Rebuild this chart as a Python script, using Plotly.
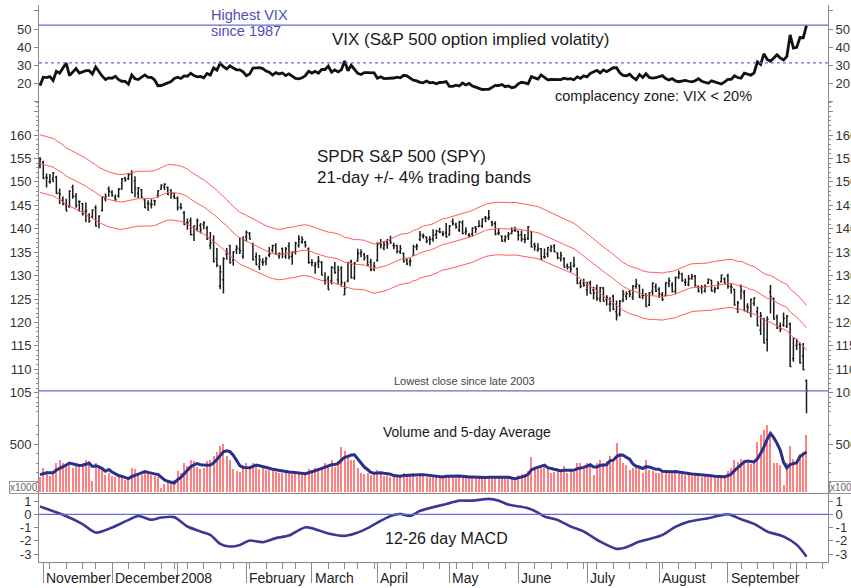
import numpy as np
import pandas as pd
import plotly.graph_objects as go

# ---------------- DATA ----------------
# trading calendar (NYSE holidays in the window)
holidays = ['2007-11-22', '2007-12-25', '2008-01-01', '2008-01-21', '2008-02-18',
            '2008-03-21', '2008-05-26', '2008-07-04', '2008-09-01']

# VIX daily close, 31 Oct 2007 .. 6 Oct 2008
vix_close = [18.53,
    23.21, 23.01, 23.52, 21.39, 26.49, 25.49, 28.50, 31.09, 24.10, 25.94, 28.06, 25.49, 26.01, 26.84, 26.84, 25.01, 28.91, 26.13, 23.78, 21.91, 22.87,
    22.66, 23.79, 21.87, 20.96, 20.85, 19.31, 24.45, 22.36, 21.91, 23.16, 24.52, 23.17, 23.13, 21.68, 18.47, 18.60, 19.31, 20.26, 20.74, 22.50,
    23.17, 22.49, 23.94, 23.79, 25.43, 24.12, 23.45, 23.68, 22.90, 25.28, 24.38, 28.46, 27.18, 31.01, 29.02, 27.78, 29.53, 28.27, 27.34, 27.33, 26.20,
    24.02, 24.96, 28.24, 28.49, 28.51, 28.01, 26.64, 25.99, 24.42, 25.78, 25.02, 25.59, 24.16, 25.12, 24.06, 22.60, 22.32, 22.87, 24.07, 26.54,
    25.52, 26.52, 25.46, 27.49, 27.49, 29.38, 25.99, 27.29, 26.16, 27.29, 32.24, 26.76, 29.84, 27.74, 25.36, 24.73, 25.75, 25.73, 25.68, 25.61,
    22.68, 23.43, 22.45, 22.48, 22.42, 22.78, 23.21, 22.90, 24.27, 24.02, 22.72, 21.53, 21.13, 20.37, 20.12, 21.05, 20.08, 20.31, 19.59, 20.29, 20.34, 20.79,
    18.18, 18.18, 18.82, 18.31, 19.96, 18.93, 19.79, 18.29, 17.73, 17.21, 16.39, 16.47, 16.53, 17.58, 18.70, 18.54, 19.19, 17.94, 18.37, 17.36, 17.83,
    19.52, 20.39, 20.02, 19.56, 23.56, 22.89, 22.16, 24.48, 23.33, 21.73, 21.93, 21.92, 22.24, 21.90, 22.64, 22.16, 22.41, 21.82, 23.44, 22.58, 23.95,
    23.36, 25.33, 26.19, 27.06, 25.60, 27.28, 26.32, 27.49, 28.48, 28.54, 25.68, 24.21, 24.02, 24.88, 23.03, 21.81, 24.68, 23.00, 25.15, 23.10, 22.76, 22.94,
    23.49, 24.11, 22.49, 21.70, 22.50, 21.17, 20.72, 21.17, 21.40, 20.97, 20.60, 21.28, 22.39, 20.98, 20.59, 19.82, 21.16, 20.49, 19.76, 19.43, 20.65,
    21.99, 22.00, 24.05, 23.06, 22.64, 25.47, 24.99, 24.39, 25.66, 31.70, 30.30, 36.22, 33.10, 32.07, 33.84, 35.72, 33.86, 32.82, 34.74, 46.72, 39.39,
    39.81, 45.26, 45.14, 52.05]

# SPY daily bars
spy_open = [153.3,
    154.2, 151.0, 150.0, 150.6, 151.0, 147.6, 146.1, 145.1, 144.7, 148.9, 146.9, 145.8, 145.4, 143.7, 142.7, 142.5, 144.5, 141.5, 143.9, 146.4, 148.5,
    147.8, 146.6, 147.0, 148.5, 150.8, 150.7, 151.6, 150.2, 147.5, 148.3, 146.2, 145.4, 145.1, 146.0, 147.1, 148.4, 148.9, 148.8, 148.2, 146.9,
    146.5, 144.7, 143.4, 141.3, 141.7, 138.7, 140.0, 140.7, 140.9, 140.1, 136.4, 137.5, 133.6, 127.8, 129.1, 134.6, 136.4, 133.3, 135.5, 135.6, 134.1,
    138.3, 139.0, 136.8, 134.0, 131.9, 132.9, 133.0, 134.4, 135.4, 136.4, 134.2, 135.7, 134.1, 136.3, 134.1, 135.1, 136.4, 137.2, 137.1, 135.8,
    132.8, 132.1, 132.9, 132.8, 128.9, 129.4, 128.9, 131.6, 129.1, 131.6, 125.9, 128.8, 133.0, 129.6, 133.1, 134.7, 134.5, 134.2, 132.9, 131.4,
    133.2, 136.9, 135.9, 137.1, 137.6, 136.4, 136.4, 135.1, 134.7, 133.3, 133.0, 134.3, 136.1, 137.7, 138.4, 138.2, 137.7, 137.8, 138.8, 139.4, 139.0, 139.2,
    138.7, 141.5, 140.9, 139.8, 141.3, 139.2, 138.6, 138.8, 140.3, 140.5, 140.6, 142.4, 142.3, 141.4, 141.1, 139.1, 138.4, 137.6, 138.5, 139.0, 139.7,
    139.4, 138.7, 137.7, 137.9, 139.4, 136.6, 135.5, 135.7, 134.0, 134.6, 135.5, 136.4, 134.8, 133.7, 133.6, 132.1, 131.8, 132.0, 131.5, 128.4, 128.4,
    126.9, 128.4, 126.9, 127.3, 125.0, 127.4, 124.9, 123.9, 125.6, 122.3, 121.9, 124.8, 125.6, 126.6, 125.4, 127.7, 127.9, 125.7, 125.8, 123.7, 126.6, 127.6,
    127.1, 125.9, 125.7, 128.3, 128.0, 126.6, 129.6, 130.3, 128.6, 128.1, 129.4, 129.9, 127.6, 127.4, 126.7, 128.4, 129.0, 126.8, 127.3, 128.7, 129.3,
    129.9, 127.6, 127.1, 122.8, 127.8, 126.4, 123.4, 121.9, 124.1, 122.3, 118.4, 120.7, 116.3, 126.5, 125.1, 121.1, 119.3, 119.4, 119.2, 119.6, 112.3,
    115.1, 115.3, 112.9, 107.6]
spy_high = [155.3,
    154.5, 151.8, 151.7, 152.1, 151.3, 148.6, 146.9, 146.4, 148.2, 149.4, 147.6, 146.0, 145.5, 145.6, 143.3, 144.1, 145.0, 142.9, 147.0, 147.5, 149.0,
    148.2, 147.3, 148.7, 150.8, 151.1, 151.9, 152.5, 151.2, 148.9, 148.5, 146.4, 146.1, 146.3, 146.1, 148.2, 149.5, 149.7, 149.0, 148.4, 147.6,
    146.9, 145.5, 143.8, 142.2, 142.4, 140.7, 142.2, 141.2, 141.6, 140.6, 139.3, 138.6, 135.9, 132.2, 133.9, 135.9, 136.6, 135.2, 136.5, 138.2, 138.4,
    139.6, 139.3, 137.0, 134.9, 134.4, 133.7, 134.0, 136.1, 136.6, 136.9, 134.9, 136.0, 136.1, 137.1, 135.2, 137.2, 138.6, 138.4, 137.4, 136.0,
    133.5, 132.9, 134.2, 133.1, 130.7, 129.9, 132.0, 132.9, 132.1, 132.0, 128.7, 132.9, 133.4, 132.9, 135.7, 135.6, 134.8, 134.4, 133.6, 132.9,
    137.1, 137.8, 137.3, 137.8, 138.5, 137.0, 136.6, 136.5, 134.9, 133.7, 133.7, 136.6, 136.8, 139.5, 139.0, 138.4, 138.4, 139.9, 139.8, 140.2, 139.5, 141.2,
    140.8, 142.2, 141.3, 141.7, 141.8, 140.3, 139.1, 140.3, 140.6, 141.8, 142.2, 142.7, 144.0, 141.7, 141.6, 140.0, 138.6, 138.6, 139.3, 140.3, 140.4,
    139.6, 139.6, 138.9, 140.6, 139.5, 137.0, 136.9, 135.9, 135.8, 136.1, 136.5, 136.7, 135.0, 135.1, 133.9, 132.6, 132.9, 134.0, 131.6, 129.1, 129.3,
    128.7, 128.9, 127.6, 128.1, 127.6, 127.5, 125.8, 125.4, 125.9, 124.7, 124.8, 126.9, 126.6, 126.9, 128.0, 129.3, 128.1, 127.2, 126.3, 126.5, 128.6, 128.3,
    127.5, 126.5, 128.5, 129.6, 128.6, 129.8, 131.1, 130.6, 129.4, 130.1, 130.4, 130.1, 127.9, 128.0, 128.1, 129.4, 129.1, 127.6, 128.8, 130.2, 129.6,
    130.4, 128.3, 127.2, 124.6, 128.1, 126.9, 124.1, 125.1, 125.4, 123.4, 122.2, 121.0, 121.3, 128.0, 125.3, 121.7, 120.0, 122.1, 121.6, 120.0, 116.7,
    116.5, 115.7, 115.6, 107.8]
spy_low = [152.9,
    150.6, 148.8, 149.6, 149.9, 147.4, 145.3, 145.0, 143.8, 144.5, 146.4, 144.5, 143.6, 142.8, 141.4, 141.3, 142.3, 140.5, 140.1, 143.7, 145.8, 146.8,
    146.8, 145.9, 146.6, 148.3, 150.0, 150.4, 147.6, 146.7, 146.5, 146.6, 144.4, 143.8, 144.3, 144.9, 146.6, 148.3, 148.2, 147.2, 146.4, 146.4,
    143.9, 144.1, 140.8, 139.8, 138.6, 137.4, 139.4, 139.0, 139.9, 137.6, 135.6, 132.8, 131.8, 127.1, 126.2, 133.4, 132.5, 132.1, 134.6, 134.6, 133.6,
    137.3, 137.7, 133.2, 132.2, 131.2, 132.1, 132.2, 133.9, 134.9, 134.4, 133.6, 133.7, 133.6, 133.5, 132.3, 134.5, 136.0, 136.8, 136.0, 132.5,
    132.0, 130.4, 131.6, 130.0, 128.1, 127.0, 128.1, 130.4, 128.1, 127.6, 125.8, 128.6, 129.4, 129.1, 133.0, 133.9, 133.2, 132.1, 130.9, 130.9,
    133.0, 135.8, 135.4, 135.7, 136.8, 135.6, 134.7, 134.6, 132.8, 132.2, 132.0, 134.2, 135.4, 137.4, 137.9, 136.9, 136.5, 137.2, 137.8, 139.1, 138.4, 138.1,
    138.5, 140.7, 140.0, 139.3, 138.8, 138.7, 138.2, 138.4, 139.1, 140.3, 140.2, 141.4, 141.8, 140.5, 138.6, 138.6, 137.2, 137.1, 137.6, 138.8, 139.3,
    137.5, 137.2, 136.9, 137.6, 136.0, 135.3, 135.1, 133.3, 133.6, 133.9, 135.0, 135.0, 133.5, 133.0, 131.7, 131.3, 130.7, 131.8, 128.2, 127.3, 127.6,
    125.7, 126.1, 124.9, 124.6, 124.3, 124.4, 123.6, 122.3, 122.6, 120.4, 121.3, 124.3, 124.8, 125.4, 124.8, 127.2, 125.2, 125.0, 123.3, 123.5, 125.8, 126.5,
    125.2, 124.6, 125.6, 127.5, 126.4, 126.1, 129.3, 128.7, 127.8, 127.7, 129.1, 127.6, 126.4, 126.1, 126.4, 128.2, 126.6, 126.3, 127.1, 128.5, 128.2,
    127.2, 126.2, 123.6, 122.0, 124.9, 122.4, 122.0, 121.1, 123.5, 119.2, 117.3, 115.5, 113.8, 121.9, 120.6, 118.6, 117.9, 119.1, 118.8, 110.5, 111.6,
    114.1, 111.2, 109.8, 100.6]
spy_close = [154.8,
    150.7, 150.9, 150.1, 151.9, 147.5, 147.4, 145.3, 143.8, 148.0, 147.0, 145.0, 145.8, 143.2, 143.9, 141.6, 144.0, 140.6, 142.7, 146.8, 146.9, 148.0,
    147.1, 146.2, 148.4, 150.6, 150.4, 151.5, 147.7, 148.6, 148.7, 146.7, 144.5, 145.4, 145.2, 145.9, 148.1, 149.3, 149.5, 147.3, 147.5, 146.5,
    144.4, 144.5, 140.9, 141.3, 138.7, 140.6, 141.7, 139.8, 141.3, 137.8, 137.0, 133.0, 132.2, 130.8, 133.6, 134.9, 132.8, 135.1, 135.9, 135.3, 137.6,
    139.2, 137.8, 133.4, 132.3, 133.4, 132.8, 133.6, 134.6, 136.4, 134.6, 134.7, 134.6, 135.7, 134.0, 135.0, 136.9, 137.8, 137.7, 136.5, 132.8,
    132.8, 132.4, 133.1, 130.1, 129.0, 127.0, 131.8, 130.6, 131.2, 128.5, 127.3, 132.8, 129.5, 132.7, 134.7, 135.0, 133.8, 132.3, 131.2, 132.0,
    136.7, 136.5, 136.6, 136.7, 137.0, 136.3, 135.2, 135.8, 133.0, 132.5, 133.1, 136.2, 136.3, 138.7, 138.5, 137.3, 137.7, 138.6, 139.5, 139.3, 138.8, 138.3,
    140.6, 141.1, 140.4, 141.5, 139.0, 139.5, 138.5, 140.1, 140.0, 140.6, 142.1, 142.2, 142.4, 141.0, 138.8, 139.1, 137.3, 138.2, 138.8, 139.5, 139.7,
    138.6, 137.8, 137.7, 140.4, 136.1, 136.2, 135.8, 133.5, 134.0, 136.0, 136.0, 135.1, 133.8, 134.3, 131.8, 131.8, 131.4, 132.2, 128.3, 127.8, 128.0,
    128.5, 126.2, 126.3, 125.2, 127.4, 124.5, 125.3, 124.0, 122.8, 121.5, 124.5, 126.0, 126.1, 126.0, 127.7, 128.2, 125.3, 125.8, 123.4, 126.3, 128.4, 126.7,
    126.0, 124.9, 128.5, 128.9, 126.6, 129.6, 130.5, 129.0, 128.6, 129.3, 129.8, 127.9, 126.7, 127.5, 127.8, 129.2, 126.7, 127.2, 128.2, 130.1, 128.3,
    127.8, 127.5, 123.7, 124.2, 126.8, 122.5, 123.2, 124.9, 125.2, 119.3, 121.4, 115.6, 120.7, 125.5, 120.7, 118.8, 118.6, 120.9, 121.3, 110.6, 116.6,
    116.1, 111.4, 109.9, 105.4]

# closes before the window (Sep-Oct 2007), used only to seed the 21-day bands
prior_close = [148.9, 147.2, 147.9, 145.4, 145.2, 147.1, 147.2, 148.4, 148.4, 147.7,
               152.0, 152.9, 151.9, 152.6, 151.8, 151.7, 152.5, 153.1, 152.7,
               154.7, 154.7, 154.0, 154.3, 155.8, 155.3, 156.5, 156.2, 155.4, 156.2, 154.9,
               153.9, 154.1, 154.0, 150.1, 150.6, 152.0, 151.6, 151.4, 153.5, 154.1, 153.1]

# daily volume (chart units, x1000)
volume = [160,
    250, 220, 170, 200, 300, 330, 300, 280, 300, 250, 280, 270, 300, 330, 320, 110, 300, 250, 240, 180, 200,
    170, 150, 150, 140, 120, 130, 250, 240, 190, 180, 200, 210, 180, 170, 150, 40, 80, 110, 100, 120,
    220, 200, 300, 270, 330, 320, 260, 240, 250, 320, 330, 380, 420, 480, 500, 380, 330, 240, 220, 210, 280,
    300, 250, 300, 280, 240, 260, 230, 230, 220, 210, 200, 200, 220, 210, 190, 190, 200, 180, 190, 240,
    230, 250, 250, 260, 300, 280, 330, 260, 320, 470, 430, 380, 330, 330, 250, 200, 190, 200, 180, 200,
    230, 190, 170, 170, 160, 160, 170, 160, 200, 170, 180, 200, 160, 190, 170, 160, 150, 170, 160, 150, 150, 180,
    180, 170, 140, 160, 170, 150, 150, 150, 150, 140, 160, 150, 160, 150, 170, 160, 140, 150, 140, 130, 130,
    180, 190, 190, 220, 370, 260, 240, 270, 260, 240, 200, 210, 230, 220, 270, 200, 230, 210, 300, 300, 240,
    300, 280, 180, 300, 330, 300, 320, 380, 330, 510, 400, 300, 280, 230, 250, 280, 260, 200, 330, 230, 220, 200,
    200, 230, 220, 200, 200, 210, 200, 190, 180, 190, 170, 190, 180, 160, 170, 160, 170, 160, 150, 160, 150,
    220, 250, 330, 310, 350, 330, 300, 290, 300, 520, 600, 650, 700, 600, 300, 300, 280, 70, 300, 480, 350,
    330, 400, 420, 600]
prior_volume = [180, 190, 170, 200]

macd_day = [0, 7, 13, 17, 22, 27, 30, 34, 37, 41, 45, 49, 52, 55, 58, 61, 64, 68, 72, 76,
            79, 81, 83, 88, 93, 97, 100, 103, 107, 110, 113, 116, 120, 124, 128, 132, 137, 140, 143, 149,
            152, 154, 158, 162, 166, 171, 176, 179, 183, 186, 190, 194, 198, 204, 210, 214, 218, 222, 227, 231,
            234]
macd_line = [0.57, -0.05, -0.75, -1.38, -1.0, -0.43, -0.13, -0.42, -0.25, -0.22,
             -0.93, -1.3, -1.56, -2.23, -2.43, -2.31, -1.98, -2.1, -1.8, -1.6,
             -1.2, -0.98, -1.05, -1.45, -1.63, -1.38, -1.05, -0.63, -0.13, 0.02,
             -0.13, 0.25, 0.53, 0.77, 1.02, 1.02, 1.15, 1.02, 0.72, 0.45,
             0.12, -0.18, -0.43, -0.93, -1.3, -2.06, -2.61, -2.48, -2.06, -1.86,
             -1.56, -0.95, -0.56, -0.3, 0.0, -0.38, -0.73, -1.3, -1.68, -2.3,
             -3.19]
macd_trigger = [0.6, 0.0, -0.7, -1.34, -0.97, -0.4, -0.1, -0.38, -0.22, -0.18,
                -0.88, -1.26, -1.52, -2.18, -2.4, -2.28, -1.95, -2.06, -1.76, -1.56,
                -1.17, -0.95, -1.02, -1.41, -1.6, -1.35, -1.02, -0.6, -0.1, 0.05,
                -0.1, 0.28, 0.56, 0.8, 1.05, 1.05, 1.18, 1.06, 0.76, 0.49,
                0.16, -0.14, -0.39, -0.89, -1.26, -2.02, -2.57, -2.45, -2.03, -1.83,
                -1.53, -0.92, -0.53, -0.27, 0.03, -0.34, -0.69, -1.26, -1.64, -2.25,
                -3.12]

month_names = {11: 'November', 12: 'December', 1: '2008', 2: 'February', 3: 'March', 4: 'April',
               5: 'May', 6: 'June', 7: 'July', 8: 'August', 9: 'September'}

vix_tick_vals = [10, 20, 30, 40, 50, 60]
vix_tick_text = ['', '20', '30', '40', '50', '']
spy_tick_vals = [105, 110, 115, 120, 125, 130, 135, 140, 145, 150, 155, 160, 165]
spy_tick_text = ['105', '110', '115', '120', '125', '130', '135', '140', '145', '150', '155', '160', '']
vol_tick_vals = [500]
vol_tick_text = ['500']
macd_tick_vals = [1, 0, -1, -2, -3]
macd_tick_text = ['1', '0', '-1', '-2', '-3']

vix_record = 52.1       # highest VIX since 1987
vix_alert = 31.2        # dotted alert level
spy_low_close = 105.4   # lowest close since late 2003
band_pct = 4.0
band_days = 21

# ---------------- DERIVED ----------------
N = len(spy_close)
cal = pd.bdate_range('2007-10-31', '2008-10-17')
cal = cal[~cal.isin(pd.to_datetime(holidays))]
xi = np.arange(N)

month_idx, week_idx = [], []
for i in range(1, len(cal)):
    if cal[i].month != cal[i - 1].month:
        month_idx.append(i)
    elif cal[i].weekday() < cal[i - 1].weekday():
        week_idx.append(i)

ext_close = pd.Series(prior_close + spy_close)
sma = ext_close.rolling(band_days).mean().to_numpy()[len(prior_close):]
upper = sma * (1 + band_pct / 100)
lower = sma * (1 - band_pct / 100)

vol_avg = pd.Series(prior_volume + volume).rolling(5).mean().to_numpy()[len(prior_volume):]

# ---------------- LAYOUT GEOMETRY ----------------
W, H = 851, 588
ML, MR, MT, MB = 39, 23, 5, 26
PW, PH = W - ML - MR, H - MT - MB
PX_PER_DAY = 3.2757

def fx(px):
    return (px - ML) / PW

def fy(py):
    return (H - MB - py) / PH

x_range = [(ML - 40) / PX_PER_DAY, (W - MR - 40) / PX_PER_DAY]
vix_range = [10, 63.33]
spy_range = [100.03, 167.26]
vol_range = [-24.3, 798.5]
macd_range = [-3.586, 1.526]

dom_vix = [fy(101), 1.0]
dom_spy = [fy(416), fy(101)]
dom_vol = [fy(494), fy(416)]
dom_macd = [0.0, fy(494)]

AX = '#8a8a8a'
TXT = '#333333'
FONT = 'Liberation Sans, Arial, sans-serif'
CLEAR = 'rgba(0,0,0,0)'

fig = go.Figure()

# VIX
fig.add_trace(go.Scatter(x=xi, y=vix_close, mode='lines', line=dict(color='#111111', width=2.8),
                         xaxis='x', yaxis='y', hoverinfo='skip'))
# SPY bands
for band in (upper, sma, lower):
    fig.add_trace(go.Scatter(x=xi, y=band, mode='lines', line=dict(color='#ff5c5c', width=1),
                             xaxis='x', yaxis='y2', hoverinfo='skip'))
# SPY bars
fig.add_trace(go.Ohlc(x=xi, open=spy_open, high=spy_high, low=spy_low, close=spy_close,
                      increasing=dict(line=dict(color='#1a1a1a', width=1.5)),
                      decreasing=dict(line=dict(color='#1a1a1a', width=1.5)),
                      tickwidth=0.4, xaxis='x', yaxis='y2', hoverinfo='skip'))
# Volume
fig.add_trace(go.Bar(x=xi, y=volume, width=0.32, marker=dict(color='#ff8080', line=dict(width=0)),
                     xaxis='x', yaxis='y3', hoverinfo='skip'))
fig.add_trace(go.Scatter(x=xi, y=vol_avg, mode='lines', line=dict(color='#27318c', width=3),
                         xaxis='x', yaxis='y3', hoverinfo='skip'))
# MACD
fig.add_trace(go.Scatter(x=macd_day, y=macd_trigger, mode='lines',
                         line=dict(color='#ff6a6a', width=2, shape='spline', smoothing=0.7),
                         xaxis='x', yaxis='y4', hoverinfo='skip'))
fig.add_trace(go.Scatter(x=macd_day, y=macd_line, mode='lines',
                         line=dict(color='#2e3c9e', width=2.4, shape='spline', smoothing=0.7),
                         xaxis='x', yaxis='y4', hoverinfo='skip'))

# invisible copies so the right-hand axes get drawn
for s, ax in ((vix_close, 'y5'), (spy_close, 'y6'), (volume, 'y7')):
    fig.add_trace(go.Scatter(x=xi, y=s, mode='lines', line=dict(color=CLEAR, width=0),
                             xaxis='x', yaxis=ax, hoverinfo='skip'))
fig.add_trace(go.Scatter(x=macd_day, y=macd_line, mode='lines', line=dict(color=CLEAR, width=0),
                         xaxis='x', yaxis='y8', hoverinfo='skip'))

# reference lines
HL = '#6a6ad0'
fig.add_shape(type='line', xref='paper', x0=0, x1=1, yref='y', y0=vix_record, y1=vix_record,
              line=dict(color=HL, width=1.2))
fig.add_shape(type='line', xref='paper', x0=0, x1=1, yref='y', y0=vix_alert, y1=vix_alert,
              line=dict(color=HL, width=1.2, dash='dot'))
fig.add_shape(type='line', xref='paper', x0=0, x1=1, yref='y2', y0=spy_low_close, y1=spy_low_close,
              line=dict(color=HL, width=1.2))
fig.add_shape(type='line', xref='paper', x0=0, x1=1, yref='y4', y0=0, y1=0,
              line=dict(color=HL, width=1.2))


def yax(domain, rng, tv, tt, minor_dtick):
    d = dict(domain=domain, range=rng, anchor='x', showline=True, linecolor=AX, linewidth=1,
             mirror=True, ticks='outside', ticklen=4, tickcolor=AX, tickvals=tv, ticktext=tt,
             tickfont=dict(size=13, color=TXT, family=FONT), showgrid=False, zeroline=False,
             fixedrange=True, automargin=False)
    if minor_dtick:
        d['minor'] = dict(dtick=minor_dtick, ticks='outside', ticklen=2, tickcolor=AX)
    return d


def yax_right(over, rng, tv, tt, minor_dtick):
    d = dict(overlaying=over, side='right', range=rng, anchor='x', showline=False,
             ticks='outside', ticklen=4, tickcolor=AX, tickvals=tv, ticktext=tt,
             tickfont=dict(size=13, color=TXT, family=FONT), showgrid=False, zeroline=False,
             fixedrange=True, automargin=False)
    if minor_dtick:
        d['minor'] = dict(dtick=minor_dtick, ticks='outside', ticklen=2, tickcolor=AX)
    return d


fig.update_layout(
    width=W, height=H, margin=dict(l=ML, r=MR, t=MT, b=MB, autoexpand=False),
    paper_bgcolor='white', plot_bgcolor='white', showlegend=False, bargap=0,
    font=dict(family=FONT, color=TXT),
    xaxis=dict(domain=[0, 1], range=x_range, anchor='y4', showline=True, linecolor=AX, mirror=True,
               ticks='outside', ticklen=20, tickcolor=AX, tickvals=month_idx, showticklabels=False,
               minor=dict(tickvals=week_idx, ticks='outside', ticklen=6, tickcolor=AX),
               showgrid=False, zeroline=False, fixedrange=True, automargin=False,
               rangeslider=dict(visible=False)),
    yaxis=yax(dom_vix, vix_range, vix_tick_vals, vix_tick_text, None),
    yaxis2=yax(dom_spy, spy_range, spy_tick_vals, spy_tick_text, 1),
    yaxis3=yax(dom_vol, vol_range, vol_tick_vals, vol_tick_text, 100),
    yaxis4=yax(dom_macd, macd_range, macd_tick_vals, macd_tick_text, None),
    yaxis5=yax_right('y', vix_range, vix_tick_vals, vix_tick_text, None),
    yaxis6=yax_right('y2', spy_range, spy_tick_vals, spy_tick_text, 1),
    yaxis7=yax_right('y3', vol_range, vol_tick_vals, vol_tick_text, 100),
    yaxis8=yax_right('y4', macd_range, macd_tick_vals, macd_tick_text, None),
)

ann = []

def text(t, px, py, size, color='#1a1a1a', xanchor='left', **kw):
    d = dict(text=t, xref='paper', yref='paper', x=fx(px), y=fy(py), xanchor=xanchor, yanchor='middle',
             showarrow=False, font=dict(size=size, color=color, family=FONT))
    d.update(kw)
    ann.append(d)

text('Highest VIX', 209, 15, 14.5, color='#4f4fb5')
text('since 1987', 209, 31, 14.5, color='#4f4fb5')
text('VIX (S&amp;P 500 option implied volatity)', 471, 39, 17, xanchor='center')
text('complacency zone: VIX &lt; 20%', 653, 96, 14.5, xanchor='center')
text('SPDR S&amp;P 500 (SPY)', 315, 157, 17)
text('21-day +/- 4% trading bands', 315, 177, 17)
text('Lowest close since late 2003', 465, 381, 11, color='#444444', xanchor='center')
text('Volume and 5-day Average', 467, 432, 14, xanchor='center')
text('12-26 day MACD', 446, 538, 16, xanchor='center')
text('x1000', 39, 487, 10, color='#666666', xanchor='right', bordercolor='#999999', borderwidth=1, borderpad=0)
text('x1000', 829, 487, 10, color='#666666', xanchor='left', bordercolor='#999999', borderwidth=1, borderpad=0)

# month labels, left-aligned just after each month boundary
for i in month_idx:
    m = cal[i].month
    if i < N and m in month_names:
        ann.append(dict(text=month_names[m], xref='x', yref='paper', x=i, y=0, xanchor='left', yanchor='top',
                        xshift=1, yshift=-6, showarrow=False,
                        font=dict(size=14, color='#222222', family=FONT)))

fig.update_layout(annotations=ann)

fig.write_html('out.html', include_plotlyjs=True, config={'displayModeBar': False},
               post_script="document.body.style.margin='0';document.body.style.overflow='hidden';")
